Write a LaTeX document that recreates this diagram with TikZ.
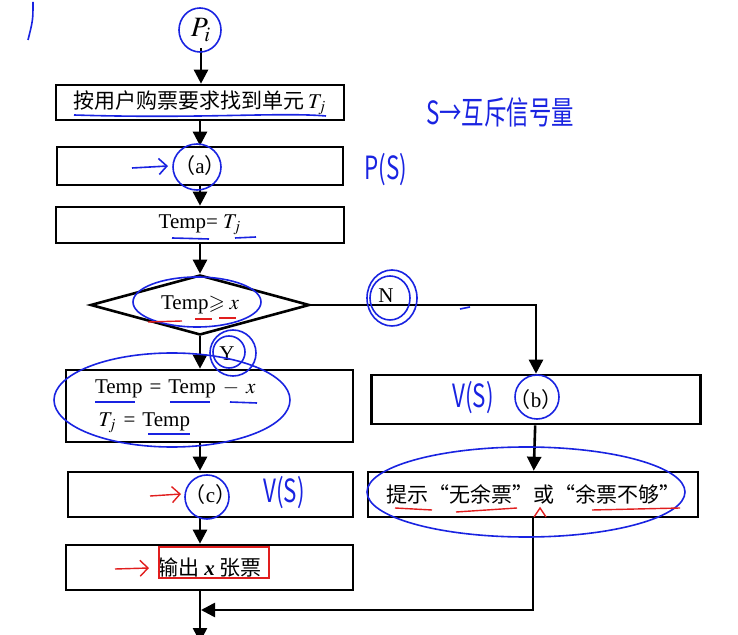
\documentclass[tikz,border=0pt]{standalone}
\usepackage{amsmath,amssymb}
\usepackage{mathptmx}
\usepackage{fontspec}
\setmainfont{Liberation Serif}
\newfontfamily\cjk{Noto Sans CJK SC}
\usetikzlibrary{arrows.meta,shapes.geometric}

\definecolor{penblue}{RGB}{25,35,225}
\definecolor{penred}{RGB}{225,30,30}

\tikzset{
  box/.style={draw, line width=1.3pt, inner sep=0pt, font=\fontsize{10.5}{12}\selectfont},
  flow/.style={line width=1.3pt, -{Triangle[length=7pt,width=7pt]}},
  pen/.style={draw=penblue, line width=0.8pt},
  redpen/.style={draw=penred, line width=0.7pt},
  hand/.style={text=penblue, font=\cjk\fontsize{16}{16}\selectfont},
}

\begin{document}
\begin{tikzpicture}[x=0.5pt,y=-0.5pt]
  \useasboundingbox (0,0) rectangle (738,635);

  % flow chart
  \node (pi) at (201,30) {\fontsize{14}{14}\selectfont$P_i$};
  \node[box, minimum width=144pt, minimum height=17.5pt] (find) at (200,102.5) {\cjk 按用户购票要求找到单元\,$T_j$};
  \node[box, minimum width=143pt, minimum height=19pt] (stepa) at (200,166) {{\cjk （}a{\cjk ）}};
  \node[box, minimum width=144pt, minimum height=18pt] (copy) at (200,225) {Temp= $T_j$};
  \node[draw, diamond, line width=1.3pt, inner sep=0pt, aspect=3.6, minimum width=109.5pt,
        minimum height=30pt, font=\fontsize{10.5}{12}\selectfont] (test) at (200,305) {Temp$\geqslant x$};
  \node[box, minimum width=143.5pt, minimum height=36pt, text width=114.5pt, inner xsep=14.5pt,
        align=left, font=\fontsize{10.5}{16.5}\selectfont] (take) at (209.5,406) {Temp = Temp $-$ $x$\\ \,$T_j$ = Temp};
  \node[box, minimum width=164.5pt, minimum height=24.5pt] (stepb) at (536,399.5) {{\cjk （}b{\cjk ）}};
  \node[box, minimum width=165pt, minimum height=22.5pt] (warn) at (533,494.5) {\cjk 提示“无余票”或“余票不够”};
  \node[box, minimum width=142.5pt, minimum height=22.5pt] (stepc) at (210.5,494.5) {{\cjk （}c{\cjk ）}};
  \node[box, minimum width=143.5pt, minimum height=22.5pt] (out) at (209.5,567.5) {\cjk 输出 {\rmfamily\bfseries\itshape x} 张票};
  \node[font=\fontsize{10.5}{12}\selectfont] (no) at (386,296) {N};
  \node[font=\fontsize{10.5}{12}\selectfont] (yes) at (227,354) {Y};
  \coordinate (merge) at (201,610);
  \coordinate (bottom) at (200,642);

  \draw[flow] (pi) -- (pi |- find.north);
  \draw[flow] (find) -- (stepa);
  \draw[flow] (stepa) -- (copy);
  \draw[flow] (copy) -- (test);
  \draw[flow] (test.south) -- (test.south |- take.north);
  \draw[flow] (test.east) -| (stepb.north);
  \draw[flow] (stepb) -- (warn);
  \draw[flow] (take.south -| test.south) -- (stepc.north -| test.south);
  \draw[flow] (stepc.south -| test.south) -- (out.north -| test.south);
  \draw[flow] (out.south -| test.south) -- (bottom);
  \draw[flow] (warn.south) |- (merge);

  % pen marks
  \draw[pen] (33,2) .. controls (33,20) .. (28,40);
  \draw[pen] (200,30) ellipse [x radius=10.5pt, y radius=11pt];
  \draw[pen] (74,115) .. controls (200,119) and (280,112) .. (326,116);
  \draw[pen, -{Straight Barb[length=4pt]}] (132,168) -- (168,166);
  \draw[pen] (197,167) ellipse [x radius=12pt, y radius=11.5pt];
  \node[hand] (ps) at (386,170) {\scalebox{0.7}[1]{P(S)}};
  \node[hand] (mutex) at (500,112) {\scalebox{0.7}[1]{S→互斥信号量}};
  \draw[pen] (172,238) -- (209,239);
  \draw[pen] (235,238) -- (256,237);
  \draw[pen] (197,302) ellipse [x radius=32pt, y radius=12.5pt];
  \draw[redpen] (148,322) -- (182,321);
  \draw[redpen] (195,319) -- (212,319);
  \draw[redpen] (219,318) -- (236,318);
  \draw[pen] (392,298) ellipse [x radius=12.5pt, y radius=14pt];
  \draw[pen] (390,298) ellipse [x radius=10pt, y radius=11pt];
  \draw[pen] (233,353) ellipse [x radius=11.5pt, y radius=11.5pt];
  \draw[pen] (229,352) ellipse [x radius=8pt, y radius=8pt];
  \draw[pen] (172,400) ellipse [x radius=59pt, y radius=23.5pt];
  \draw[pen] (95,402) -- (135,402);
  \draw[pen] (170,402) -- (210,402);
  \draw[pen] (230,402) -- (257,403);
  \draw[pen] (148,434) -- (190,434);
  \node[hand] (vsb) at (473,398) {\scalebox{0.7}[1]{V(S)}};
  \draw[pen] (537,397) ellipse [x radius=11pt, y radius=11pt];
  \draw[pen] (526,492) ellipse [x radius=79.5pt, y radius=22.5pt];
  \draw[redpen] (395,508) -- (432,510);
  \draw[redpen] (456,512) -- (517,508);
  \draw[redpen] (592,510) -- (680,508);
  \draw[redpen] (534,517) -- (540,508) -- (546,517);
  \draw[redpen, -{Straight Barb[length=4pt]}] (150,496) -- (181,494);
  \draw[pen] (207,497) ellipse [x radius=11pt, y radius=11pt];
  \node[hand] (vsc) at (284,493) {\scalebox{0.7}[1]{V(S)}};
  \draw[redpen] (159,547) rectangle (269,578);
  \draw[redpen, -{Straight Barb[length=4pt]}] (115,569) -- (149,568);
  \draw[pen] (460,309) -- (470,307);
\end{tikzpicture}
\end{document}
